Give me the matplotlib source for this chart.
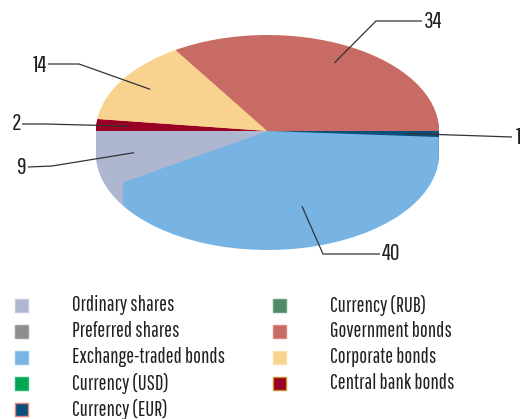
import numpy as np
import matplotlib
matplotlib.use("Agg")
import matplotlib.pyplot as plt
from matplotlib.patches import Rectangle
from matplotlib.transforms import Affine2D

plt.rcParams['font.family'] = ['Pathway Gothic One', 'Barlow Condensed', 'DejaVu Sans']

# portfolio structure, %
categories = ["Ordinary shares", "Preferred shares", "Exchange-traded bonds",
              "Currency (USD)", "Currency (EUR)", "Currency (RUB)",
              "Government bonds", "Corporate bonds", "Central bank bonds"]
values = [9, 0, 40, 0, 1, 0, 34, 14, 2]
colors = ["#AEB6D0", "#8C8C8C", "#78B4E3", "#00A650", "#0B4F7A",
          "#4E8A68", "#C96B65", "#F8D38F", "#9A0026"]
edges = ["#C4CAE0", "#A0A0A0", "#8EC2EA", "#2DB870", "#E8857A",
         "#6A9E80", "#D88680", "#FADFA8", "#C8902A"]

# order of the slices going clockwise from 3 o'clock
pie_order = [4, 2, 0, 8, 7, 6, 1, 3, 5]

W, H = 528, 419
fig = plt.figure(figsize=(W / 100, H / 100), dpi=100)
ax = fig.add_axes([0, 0, 1, 1])

cx, cy = 267.5, H - 131
R = 171.5
k = 96 / R
depth = 23

vals = [values[i] for i in pie_order]
cols = [colors[i] for i in pie_order]

# side walls: stack of squashed pies shifted downwards, top face last
for d in list(range(depth, 0, -1)) + [0]:
    wedges, _ = ax.pie(vals, colors=cols, radius=R, center=(0, 0),
                       startangle=0, counterclock=False,
                       wedgeprops=dict(linewidth=0))
    tr = Affine2D().scale(1, k).translate(cx, cy - d) + ax.transData
    for w in wedges:
        w.set_transform(tr)

# leader lines with value labels
ang = 0.0
mids = {}
total = float(sum(vals))
for i, v in zip(pie_order, vals):
    a1 = ang + 360 * v / total
    mids[i] = -(ang + a1) / 2
    ang = a1

def anchor(i, r=0.81):
    t = np.radians(mids[i])
    return cx + R * r * np.cos(t), cy + R * k * r * np.sin(t)

# (category index, path from label side, text position, alignment)
labels = [
    (6, [(422, 21), (376, 21)], (424, 22), 'left'),
    (7, [(48, 64), (79, 64)], (47, 65), 'right'),
    (8, [(22, 124), (45, 124)], (21, 124), 'right'),
    (0, [(28, 167), (52, 166)], (27, 167), 'right'),
    (4, [(512, 137)], (516, 137), 'left'),
    (2, [(380, 254), (323, 254)], (382, 254), 'left'),
]
for i, path, (tx, ty), ha in labels:
    xs = [p[0] for p in path] + [anchor(i)[0]]
    ys = [H - p[1] for p in path] + [anchor(i)[1]]
    ax.plot(xs, ys, color="#333333", lw=0.9, solid_capstyle='butt')
    ax.text(tx, H - ty, str(values[i]), ha=ha, va='center',
            fontsize=17, color="#231F20")

# legend in two columns
col_x = [(15, 72), (273, 330)]
row_y = [305, 331, 357, 383, 409]
for n, name in enumerate(categories):
    c, r = divmod(n, 5)
    sx, tx = col_x[c]
    y = H - row_y[r]
    ax.add_patch(Rectangle((sx, y - 6.5), 13, 13, facecolor=colors[n],
                           edgecolor=edges[n], lw=1))
    ax.text(tx, y, name, ha='left', va='center', fontsize=15, color="#231F20")

ax.set_xlim(0, W)
ax.set_ylim(0, H)
ax.set_aspect('auto')
ax.axis('off')
fig.savefig("out.png", dpi=100)
